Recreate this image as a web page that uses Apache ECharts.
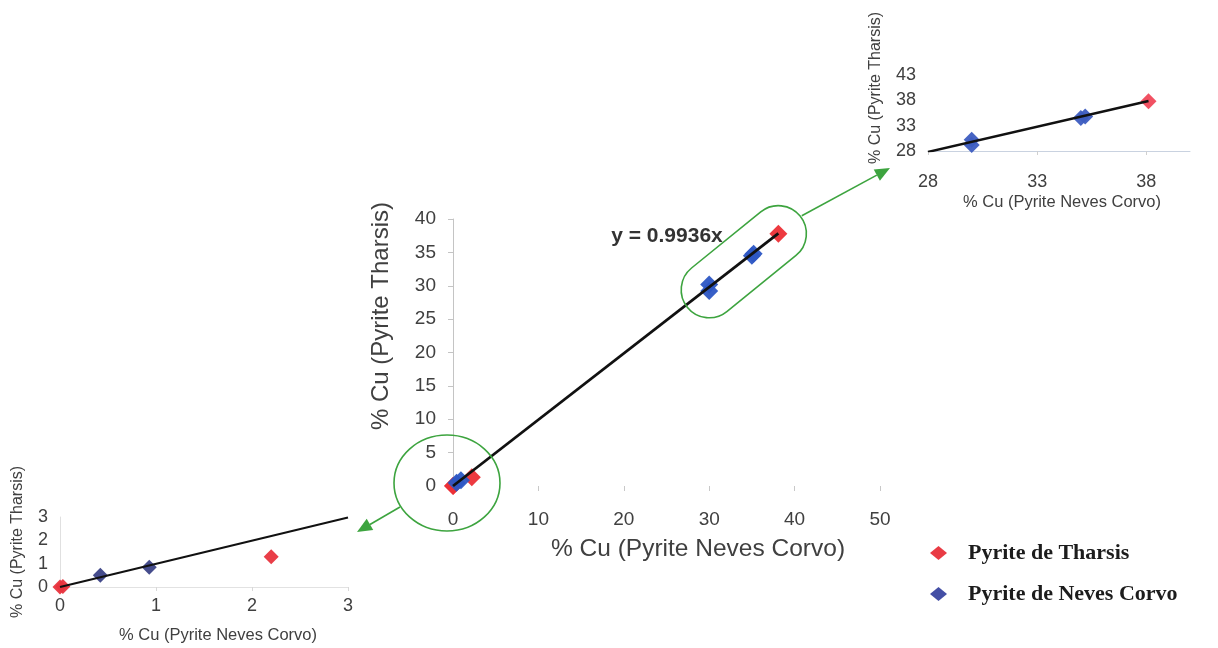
<!DOCTYPE html>
<html><head><meta charset="utf-8">
<script src="https://cdn.jsdelivr.net/npm/echarts@6/dist/echarts.min.js"></script>
<style>html,body{margin:0;padding:0;background:#fff}#c{width:1218px;height:648px}</style>
</head><body><div id="c"></div>
<script>
// ---- data ----
const seriesNames = ['Pyrite de Tharsis', 'Pyrite de Neves Corvo'];
const tharsis = [[0, 0], [0.03, 0.02], [2.2, 1.3], [38.1, 37.8]];
const nevesCorvo = [[0.42, 0.5], [0.93, 0.85], [30.0, 30.2], [30.0, 29.2], [35.0, 34.5], [35.2, 34.8]];
const fitLabel = 'y = 0.9936x';
const fitMain = [[0, 0], [38.1, 37.86]];
const fitLow = [[0, 0], [3, 2.98]];
const fitHigh = [[28, 27.82], [38.1, 37.86]];
// tick labels
const mainXTicks = [0, 10, 20, 30, 40, 50];
const mainYTicks = [0, 5, 10, 15, 20, 25, 30, 35, 40];
const highXTicks = [28, 33, 38];
const highXMax = 40;
const highYTicks = [28, 33, 38, 43];
const lowXTicks = [0, 1, 2, 3];
const lowYTicks = [0, 1, 2, 3];
const xTitle = '% Cu (Pyrite Neves Corvo)';
const yTitle = '% Cu (Pyrite Tharsis)';

// ---- chart ----
const FONT = '"Liberation Sans", Arial, sans-serif';
const txt = '#404040';
const green = '#3da43f';
const chart = echarts.init(document.getElementById('c'), null, {renderer: 'canvas'});

function axisX(ticks, gi, o) {
  const iv = ticks[1] - ticks[0];
  return Object.assign({
    type: 'value', gridIndex: gi, min: ticks[0], max: ticks[ticks.length - 1], interval: iv,
    splitLine: {show: false},
    axisLine: {show: false},
    axisTick: {show: true, length: 5, lineStyle: {color: '#c8c8c8'}},
    axisLabel: {color: txt, fontFamily: FONT, fontSize: 19, margin: 24, showMinLabel: true, showMaxLabel: true}
  }, o || {});
}
function axisY(ticks, gi, o) {
  const iv = ticks[1] - ticks[0];
  return Object.assign({
    type: 'value', gridIndex: gi, min: ticks[0], max: ticks[ticks.length - 1], interval: iv,
    splitLine: {show: false},
    axisLine: {show: true, lineStyle: {color: '#c4c4c4', width: 1}},
    axisTick: {show: true, length: 5, lineStyle: {color: '#c4c4c4'}},
    axisLabel: {color: txt, fontFamily: FONT, fontSize: 18, margin: 10}
  }, o || {});
}
function sc(name, data, gi, color, size) {
  return {type: 'scatter', name, data, xAxisIndex: gi, yAxisIndex: gi, symbol: 'diamond',
    symbolSize: size, itemStyle: {color, opacity: 0.95}, z: 2, clip: true};
}
function fit(data, gi, w) {
  return {type: 'line', name: 'fit', data, xAxisIndex: gi, yAxisIndex: gi, showSymbol: false, symbol: 'none',
    lineStyle: {color: '#111', width: w}, z: 4, clip: true, silent: true};
}

const option = {
  backgroundColor: '#fff',
  animation: false,
  grid: [
    {left: 453, top: 219, width: 427, height: 267},
    {left: 928, top: 75, width: 262, height: 76},
    {left: 60, top: 517, width: 288, height: 70}
  ],
  xAxis: [
    axisX(mainXTicks, 0),
    {type: 'value', gridIndex: 1, min: highXTicks[0], max: highXMax, interval: highXTicks[1] - highXTicks[0],
      splitLine: {show: false},
      axisLine: {show: true, lineStyle: {color: '#c9d2e0'}},
      axisTick: {show: true, length: 4, lineStyle: {color: '#d0d0d0'}},
      axisLabel: {color: txt, fontFamily: FONT, fontSize: 18, margin: 22, showMaxLabel: false}},
    axisX(lowXTicks, 2, {axisLine: {show: true, lineStyle: {color: '#e2e2e2'}},
      axisTick: {show: true, length: 4, lineStyle: {color: '#d8d8d8'}},
      axisLabel: {color: txt, fontFamily: FONT, fontSize: 18, margin: 10}})
  ],
  yAxis: [
    axisY(mainYTicks, 0, {axisLabel: {color: txt, fontFamily: FONT, fontSize: 19, margin: 17}}),
    axisY(highYTicks, 1, {axisLine: {show: false}, axisTick: {show: false},
      axisLabel: {color: txt, fontFamily: FONT, fontSize: 18, margin: 12}}),
    axisY(lowYTicks, 2, {axisLine: {show: true, lineStyle: {color: '#e0e0e0'}}, axisTick: {show: false},
      axisLabel: {color: txt, fontFamily: FONT, fontSize: 18, margin: 12}})
  ],
  legend: {
    show: true, orient: 'vertical', left: 925, top: 537, itemGap: 19,
    itemWidth: 17, itemHeight: 14, icon: 'diamond',
    data: [
      {name: seriesNames[0], itemStyle: {color: '#e8303a'}},
      {name: seriesNames[1], itemStyle: {color: '#3a46a0'}}
    ],
    textStyle: {fontFamily: '"Liberation Serif", "Times New Roman", serif', fontWeight: 'bold', fontSize: 22,
      color: '#1c1c1c', padding: [0, 0, 0, 16]},
    selectedMode: false
  },
  series: [
    sc(seriesNames[0], tharsis, 0, '#ec2f36', 18),
    sc(seriesNames[1], nevesCorvo, 0, '#2c56c4', 18),
    fit(fitMain, 0, 2.8),
    sc(seriesNames[0], tharsis, 1, '#f0485a', 16),
    sc(seriesNames[1], nevesCorvo, 1, '#3c5cc0', 16),
    fit(fitHigh, 1, 2.5),
    sc(seriesNames[0], tharsis, 2, '#e8343e', 15),
    sc(seriesNames[1], nevesCorvo, 2, '#3b4286', 15),
    fit(fitLow, 2, 2)
  ]
};
chart.setOption(option);

// ---- annotations ----
const px = (pt, gi) => chart.convertToPixel({gridIndex: gi}, pt);
function arrow(x1, y1, x2, y2) {
  const a = Math.atan2(y2 - y1, x2 - x1), L = 15, W = 6.5;
  const bx = x2 - L * Math.cos(a), by = y2 - L * Math.sin(a);
  return [
    {type: 'line', shape: {x1, y1, x2: bx, y2: by}, style: {stroke: green, lineWidth: 1.6}, z: 10},
    {type: 'polygon', shape: {points: [[x2, y2], [bx + W * Math.sin(a), by - W * Math.cos(a)], [bx - W * Math.sin(a), by + W * Math.cos(a)]]},
      style: {fill: green}, z: 10}
  ];
}
const o0 = px([0, 0], 0);
const cA = px([30, 29.4], 0), cB = px([38.1, 37.8], 0);
const mid = [(cA[0] + cB[0]) / 2, (cA[1] + cB[1]) / 2];
const len = Math.hypot(cB[0] - cA[0], cB[1] - cA[1]);
const ang = Math.atan2(-(cB[1] - cA[1]), cB[0] - cA[0]);
const R = 28;
const circ = {cx: o0[0] - 6, cy: o0[1] - 3, rx: 53, ry: 48};
function title(text, x, y, size, rot) {
  return {type: 'text', x, y, rotation: rot ? Math.PI / 2 : 0, z: 10,
    style: {text, font: size + 'px ' + FONT, fill: txt, align: 'center', verticalAlign: 'middle'}};
}
const g = [
  {type: 'ellipse', shape: circ, style: {fill: 'none', stroke: green, lineWidth: 1.6}, z: 10},
  {type: 'rect', x: mid[0], y: mid[1], rotation: ang,
    shape: {x: -len / 2 - R, y: -R, width: len + 2 * R, height: 2 * R, r: R},
    style: {fill: 'none', stroke: green, lineWidth: 1.6}, z: 10},
  ...arrow(circ.cx - 47, circ.cy + 24, 357, 532),
  ...arrow(mid[0] + 58, mid[1] - 46, 890, 168),
  {type: 'text', x: 667, y: 236, z: 10,
    style: {text: fitLabel, font: 'bold 21px ' + FONT, fill: '#333', align: 'center', verticalAlign: 'middle'}},
  title(yTitle, 381, 316, 24, true),
  title(xTitle, 698, 549, 24.5, false),
  title(yTitle, 876, 88, 16, true),
  title(xTitle, 1062, 202, 16.5, false),
  title(yTitle, 18, 542, 16, true),
  title(xTitle, 218, 635, 16.5, false)
];
chart.setOption({graphic: g});
</script>
</body></html>
